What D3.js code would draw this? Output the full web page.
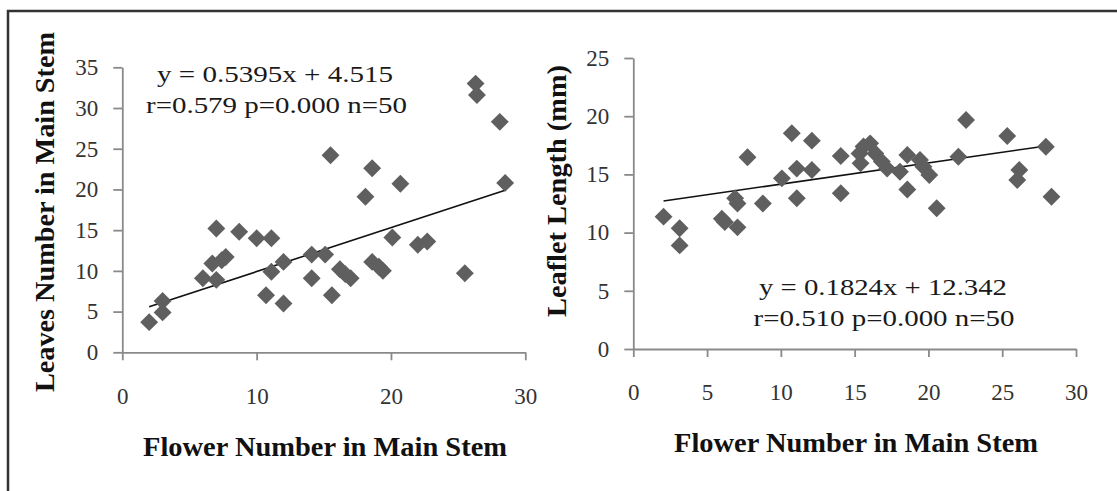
<!DOCTYPE html>
<html><head><meta charset="utf-8">
<script src="https://cdn.jsdelivr.net/npm/d3@7"></script>
<style>body{margin:0;background:#fff}svg{display:block}</style>
</head><body><svg id="c" width="1117" height="491"></svg>
<script>
// ---- Data ----
const leftX = [2, 3, 3, 6, 7, 6.7, 7, 7.4, 7.7, 8.7, 10, 11.1, 11.1, 10.7, 12, 12, 14.1, 15.1, 14.1, 15.6, 16.2, 16.6, 17, 18.6, 19.1, 19.4, 20.1, 22, 22.7, 25.5, 26.3, 26.4, 28.1, 28.5, 15.5, 18.6, 20.7, 18.1];
const leftY = [3.7, 4.9, 6.3, 9.1, 15.2, 10.9, 8.9, 11.3, 11.7, 14.8, 14.0, 14.0, 9.9, 7.0, 11.1, 6.0, 12.0, 12.0, 9.1, 7.0, 10.2, 9.6, 9.1, 11.1, 10.5, 10.0, 14.1, 13.2, 13.6, 9.7, 33.0, 31.6, 28.3, 20.8, 24.2, 22.6, 20.7, 19.1];
const rightX = [2.05, 3.14, 3.14, 6.0, 6.2, 7.06, 6.9, 7.06, 7.74, 8.78, 10.07, 10.74, 11.08, 11.08, 12.1, 12.1, 14.06, 14.06, 15.33, 15.6, 16.05, 16.4, 16.84, 17.2, 15.4, 18.07, 18.57, 18.57, 19.43, 19.66, 20.06, 20.56, 22.03, 22.55, 25.34, 26.16, 26.02, 27.96, 28.34];
const rightY = [11.37, 10.37, 8.9, 11.2, 10.9, 10.45, 12.95, 12.5, 16.47, 12.5, 14.66, 18.53, 15.5, 12.95, 17.9, 15.38, 16.58, 13.38, 16.8, 17.4, 17.67, 16.8, 16.1, 15.5, 15.95, 15.23, 16.67, 13.7, 16.24, 15.66, 14.95, 12.09, 16.52, 19.67, 18.3, 15.38, 14.52, 17.38, 13.08];
const leftXTicks = [0, 10, 20, 30];
const leftYTicks = [0, 5, 10, 15, 20, 25, 30, 35];
const rightXTicks = [0, 5, 10, 15, 20, 25, 30];
const rightYTicks = [0, 5, 10, 15, 20, 25];
const leftFit = {slope: 0.5395, intercept: 4.515};
const rightFit = {slope: 0.1824, intercept: 12.342};
const leftEq = ["y = 0.5395x + 4.515", "r=0.579 p=0.000 n=50"];
const rightEq = ["y = 0.1824x + 12.342", "r=0.510 p=0.000 n=50"];
const xTitle = "Flower Number in Main Stem";
const leftYTitle = "Leaves Number in Main Stem";
const rightYTitle = "Leaflet Length (mm)";

const svg = d3.select("#c");
const SERIF = "'Liberation Serif','Times New Roman',serif";

// outer frame
svg.append("path").attr("d", "M8,491V11H1117").attr("fill", "none")
  .attr("stroke", "#333").attr("stroke-width", 2.5);

function panel(cfg) {
  const x = d3.scaleLinear().domain([0, 30]).range(cfg.xr);
  const y = d3.scaleLinear().domain(cfg.yd).range(cfg.yr);
  const g = svg.append("g");

  const xa = g.append("g").attr("transform", `translate(0,${cfg.yr[0]})`)
    .call(d3.axisBottom(x).tickValues(cfg.xt).tickSize(8).tickPadding(27).tickSizeOuter(0));
  const ya = g.append("g").attr("transform", `translate(${cfg.xr[0]},0)`)
    .call(d3.axisLeft(y).tickValues(cfg.yt).tickSize(9).tickPadding(15).tickSizeOuter(0));
  [xa, ya].forEach(a => {
    a.selectAll("path,line").attr("stroke", "#8a8a8a").attr("stroke-width", 1.8);
    a.selectAll("text").attr("font-family", SERIF).attr("font-size", 23).attr("fill", "#333");
  });

  // trend line
  const ext = d3.extent(cfg.xs);
  g.append("line")
    .attr("x1", x(ext[0])).attr("y1", y(cfg.fit.slope * ext[0] + cfg.fit.intercept))
    .attr("x2", x(ext[1])).attr("y2", y(cfg.fit.slope * ext[1] + cfg.fit.intercept))
    .attr("stroke", "#111").attr("stroke-width", 1.6);

  // diamonds
  const sym = d3.symbol(d3.symbolSquare, 160);
  g.selectAll("path.pt").data(cfg.xs.map((v, i) => [v, cfg.ys[i]])).join("path")
    .attr("class", "pt").attr("d", sym)
    .attr("transform", d => `translate(${x(d[0])},${y(d[1])}) rotate(45)`)
    .attr("fill", "#5f5f5f");

  // equation text
  cfg.eq.forEach((t, i) => {
    g.append("text").attr("x", cfg.eqPos[i][0]).attr("y", cfg.eqPos[i][1])
      .attr("font-family", SERIF).attr("font-size", 23).attr("fill", "#1a1a1a")
      .attr("textLength", cfg.eqLen[i]).attr("lengthAdjust", "spacingAndGlyphs")
      .text(t);
  });

  // axis titles
  g.append("text").attr("x", cfg.xtPos[0]).attr("y", cfg.xtPos[1])
    .attr("font-family", SERIF).attr("font-size", 27).attr("font-weight", "bold")
    .attr("fill", "#111").attr("textLength", 364).attr("lengthAdjust", "spacingAndGlyphs")
    .text(xTitle);
  g.append("text").attr("transform", `translate(${cfg.ytPos[0]},${cfg.ytPos[1]}) rotate(-90)`)
    .attr("font-family", SERIF).attr("font-size", 27).attr("font-weight", "bold")
    .attr("fill", "#111").attr("textLength", cfg.ytLen).attr("lengthAdjust", "spacingAndGlyphs")
    .text(cfg.ytitle);
}

panel({
  xr: [122.3, 525.3], yd: [0, 35], yr: [352.3, 67.3],
  xt: leftXTicks, yt: leftYTicks, xs: leftX, ys: leftY, fit: leftFit,
  eq: leftEq, eqPos: [[157, 82], [146, 113]], eqLen: [236, 261],
  xtPos: [143, 456], ytPos: [54, 392], ytLen: 360, ytitle: leftYTitle
});
panel({
  xr: [633.3, 1076], yd: [0, 25], yr: [349, 58],
  xt: rightXTicks, yt: rightYTicks, xs: rightX, ys: rightY, fit: rightFit,
  eq: rightEq, eqPos: [[759, 295], [753.5, 326]], eqLen: [248, 261],
  xtPos: [674, 452], ytPos: [566, 317], ytLen: 252, ytitle: rightYTitle
});
</script>
</body></html>
